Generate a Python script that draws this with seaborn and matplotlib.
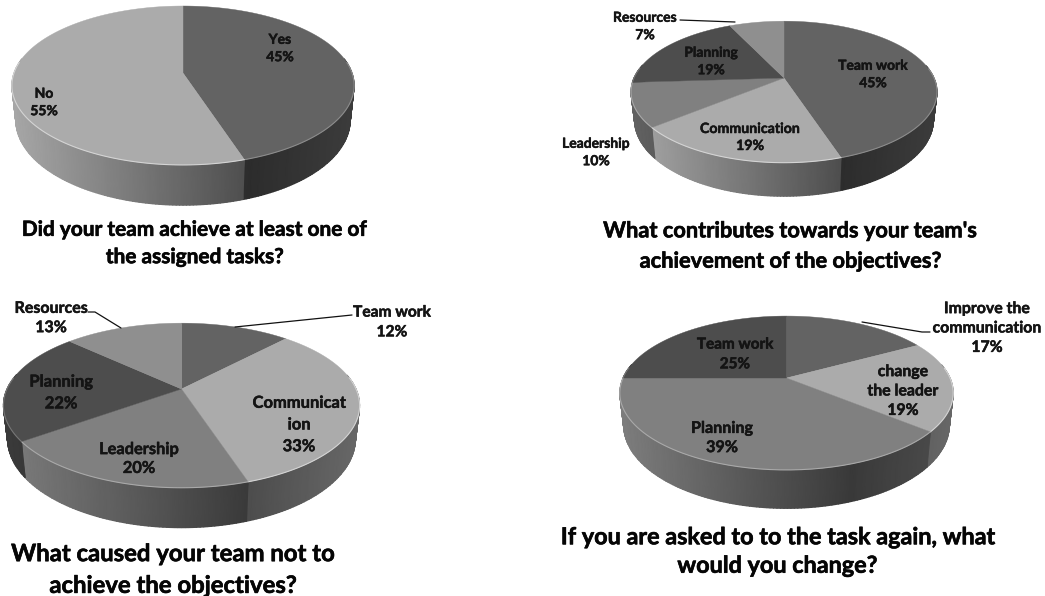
import numpy as np
import matplotlib
matplotlib.use("Agg")
import matplotlib.pyplot as plt
import matplotlib.patheffects as pe
import seaborn as sns

# Survey answers, percent per chart
tasks_labels = ["Yes", "No"]
tasks_values = [45, 55]

contrib_labels = ["Team work", "Communication", "Leadership", "Planning", "Resources"]
contrib_values = [45, 19, 10, 19, 7]

caused_labels = ["Team work", "Communicat\nion", "Leadership", "Planning", "Resources"]
caused_values = [12, 33, 20, 22, 13]

change_labels = ["Improve the\ncommunication", "change\nthe leader", "Planning", "Team work"]
change_values = [17, 19, 39, 25]

titles = [
    "Did your team achieve at least one of\nthe assigned tasks?",
    "What contributes towards your team's\nachievement of the objectives?",
    "What caused your team not to\nachieve the objectives?",
    "If you are asked to to the task again, what\nwould you change?",
]

# Slice greys, in the order the answers are listed
GREYS_2 = ["#636363", "#ababab"]
GREYS_5 = ["#636363", "#ababab", "#808080", "#4d4d4d", "#8f8f8f"]
GREYS_4 = ["#636363", "#ababab", "#808080", "#4d4d4d"]

sns.set_theme(style="white")
plt.rcParams["font.family"] = ["Lato", "DejaVu Sans"]

fig = plt.figure(figsize=(10.45, 5.96), dpi=100, facecolor="white")
ax = fig.add_axes([0, 0, 1, 1])
ax.set_xlim(0, 1045)
ax.set_ylim(596, 0)
ax.axis("off")


def project(theta, cx, cy, a, b, k):
    """Perspective view of the unit disc, theta measured clockwise from the top."""
    x, y = np.sin(theta), np.cos(theta)
    w = 1 + k * y
    return cx + a * x / w, cy - b * y / w, w


def wall_shade(x):
    """Light falls on the side wall from the left."""
    return np.interp(x, [-1, 0.4, 1], [0.97, 0.45, 0.6])


def draw_pie(values, colors, cx, cy, a, b, k, depth):
    edges = np.radians(np.concatenate([[0], np.cumsum(values)]) * 3.6)
    for start, stop, col in zip(edges[:-1], edges[1:], colors):
        grey = matplotlib.colors.to_rgb(col)[0]
        t = np.linspace(start, stop, max(int(np.degrees(stop - start)), 2) + 1)

        # side wall: smooth shading between the upper and lower rim
        rim = t[np.cos(t) < 0.2]
        if rim.size > 1:
            X, Y, W = project(rim, cx, cy, a, b, k)
            X2 = cx + (X - cx) * 0.977
            Y2 = Y + depth / W
            rel = (X - cx) / a
            shade = grey * wall_shade(rel)
            if rel.max() < -0.5:
                shade = shade * 0.78
            ax.pcolormesh(np.array([X, X2]), np.array([Y, Y2]), np.array([shade, shade]),
                          shading="gouraud", cmap="gray", vmin=0, vmax=1, zorder=2)

        # upper face
        X, Y, _ = project(t, cx, cy, a, b, k)
        ax.fill(np.r_[cx, X], np.r_[cy, Y], facecolor=col, edgecolor=col, lw=0.3, zorder=3)

        # thin bright lip along the front of the slice
        front = np.cos(t) < 0.15
        lip = min(grey + 0.16, 0.92)
        ax.plot(X[front], Y[front], color=(lip, lip, lip), lw=0.8, zorder=4)


def label(text, x, y, size, spacing):
    ax.text(x, y + 1.5, text, ha="center", va="center", fontsize=size, fontweight="bold",
            color="#141414", linespacing=spacing, zorder=6,
            path_effects=[pe.withStroke(linewidth=0.35, foreground="#141414")])


def caption(text, x, y, size, spacing):
    ax.text(x, y + 2, text, ha="center", va="center", fontsize=size, fontweight="bold",
            color="#050505", linespacing=spacing, zorder=6,
            path_effects=[pe.withStroke(linewidth=0.45, foreground="#050505")])


def leader(xs, ys):
    ax.plot(xs, ys, color="#111111", lw=0.9, zorder=5)


def entry(labels, values, i):
    return f"{labels[i]}\n{values[i]}%"


# Top left
draw_pie(tasks_values, GREYS_2, 183, 73, 169, 77.5, 0.157, 34)
label(entry(tasks_labels, tasks_values, 0), 280, 47, 10, 1.54)
label(entry(tasks_labels, tasks_values, 1), 44, 101, 10, 1.54)
caption(titles[0], 195, 241.5, 15, 1.46)

# Top right
draw_pie(contrib_values, GREYS_5, 784, 78, 150, 68, 0.197, 27)
label(entry(contrib_labels, contrib_values, 0), 873, 73, 10, 1.54)
label(entry(contrib_labels, contrib_values, 1), 750, 136, 10.2, 1.5)
label(entry(contrib_labels, contrib_values, 2), 596, 151, 10, 1.54)
label(entry(contrib_labels, contrib_values, 3), 711, 60, 10, 1.54)
label(entry(contrib_labels, contrib_values, 4), 645, 25, 10, 1.54)
leader([680, 735], [20, 22])
caption(titles[1], 790, 244, 15.7, 1.55)

# Bottom left
draw_pie(caused_values, GREYS_5, 181.5, 389, 174.5, 79, 0.2, 32)
label(entry(caused_labels, caused_values, 0), 392, 321, 11.2, 1.52)
label(entry(caused_labels, caused_values, 1), 299, 423, 11.9, 1.44)
label(entry(caused_labels, caused_values, 2), 139, 458, 11.8, 1.44)
label(entry(caused_labels, caused_values, 3), 61, 391, 11.9, 1.44)
label(entry(caused_labels, caused_values, 4), 51, 317, 11.5, 1.48)
leader([88, 95, 121], [312, 312, 328])
leader([352, 235], [315, 327])
caption(titles[2], 173, 567.5, 17.2, 1.46)

# Bottom right
draw_pie(change_values, GREYS_4, 786.5, 378, 163.5, 74, 0.195, 31)
label(entry(change_labels, change_values, 0), 987, 327, 11.4, 1.49)
label(entry(change_labels, change_values, 1), 903, 390, 11.4, 1.49)
label(entry(change_labels, change_values, 2), 722, 437, 11.6, 1.47)
label(entry(change_labels, change_values, 3), 735, 353, 11, 1.52)
leader([930, 922, 862], [332, 332, 322])
caption(titles[3], 777, 550, 16.85, 1.44)

fig.savefig("out.png", dpi=100, facecolor="white")
